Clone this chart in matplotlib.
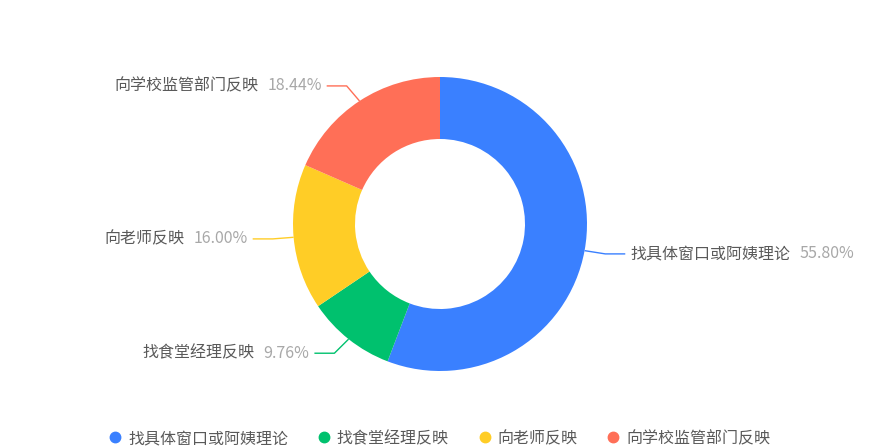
import matplotlib
matplotlib.use("Agg")
import matplotlib.pyplot as plt
from matplotlib.lines import Line2D
import numpy as np

plt.rcParams['font.family'] = ['Noto Sans CJK SC', 'DejaVu Sans']

# 数据
labels = ['找具体窗口或阿姨理论', '找食堂经理反映', '向老师反映', '向学校监管部门反映']
values = [55.80, 9.76, 16.00, 18.44]
colors = ['#3a80ff', '#00c16e', '#ffcd26', '#ff6f57']

W, H = 880, 448
cx, cy = 440, H - 224
r_out, r_in = 147, 85
fs = 11.5

fig = plt.figure(figsize=(W / 100, H / 100), dpi=100)
ax = fig.add_axes([0, 0, 1, 1])
ax.pie(values, colors=colors, startangle=90, counterclock=False,
       center=(cx, cy), radius=r_out,
       wedgeprops=dict(width=r_out - r_in, edgecolor='white', linewidth=0))
ax.set_xlim(0, W)
ax.set_ylim(0, H)
ax.set_aspect('equal')
ax.axis('off')

fig.canvas.draw()
renderer = fig.canvas.get_renderer()

# 标签和引导线
total = sum(values)
acc = 0
for name, v, c in zip(labels, values, colors):
    mid = (acc + v / 2) / total * 2 * np.pi
    acc += v
    dx, dy = np.sin(mid), np.cos(mid)
    x0, y0 = cx + r_out * dx, cy + r_out * dy
    x1, y1 = cx + (r_out + 18) * dx, cy + (r_out + 18) * dy
    side = 1 if dx > 0 else -1
    x1 = x1 + side * 3
    x2 = x1 + side * 20
    ax.plot([x0, x1, x2], [y0, y1, y1], color=c, lw=1, solid_capstyle='butt')
    pct = f'{v:.2f}%'
    tx = x2 + side * 5
    if side > 0:
        t1 = ax.text(tx, y1, name, ha='left', va='center', fontsize=fs, color='#595959')
        bb = t1.get_window_extent(renderer)
        ax.text(bb.x1 + 9, y1, pct, ha='left', va='center', fontsize=fs, color='#a8a8a8')
    else:
        t2 = ax.text(tx, y1, pct, ha='right', va='center', fontsize=fs, color='#a8a8a8')
        bb = t2.get_window_extent(renderer)
        ax.text(bb.x0 - 9, y1, name, ha='right', va='center', fontsize=fs, color='#595959')

# 图例
handles = [Line2D([], [], marker='o', linestyle='', markersize=7.5, color=c) for c in colors]
ax.legend(handles, labels, loc='lower center', bbox_to_anchor=(0.5, -0.03), ncol=4,
          frameon=False, fontsize=fs, handlelength=0.7, handletextpad=0.45,
          columnspacing=1.9, labelcolor='#595959')

fig.savefig('out.png', dpi=100)
